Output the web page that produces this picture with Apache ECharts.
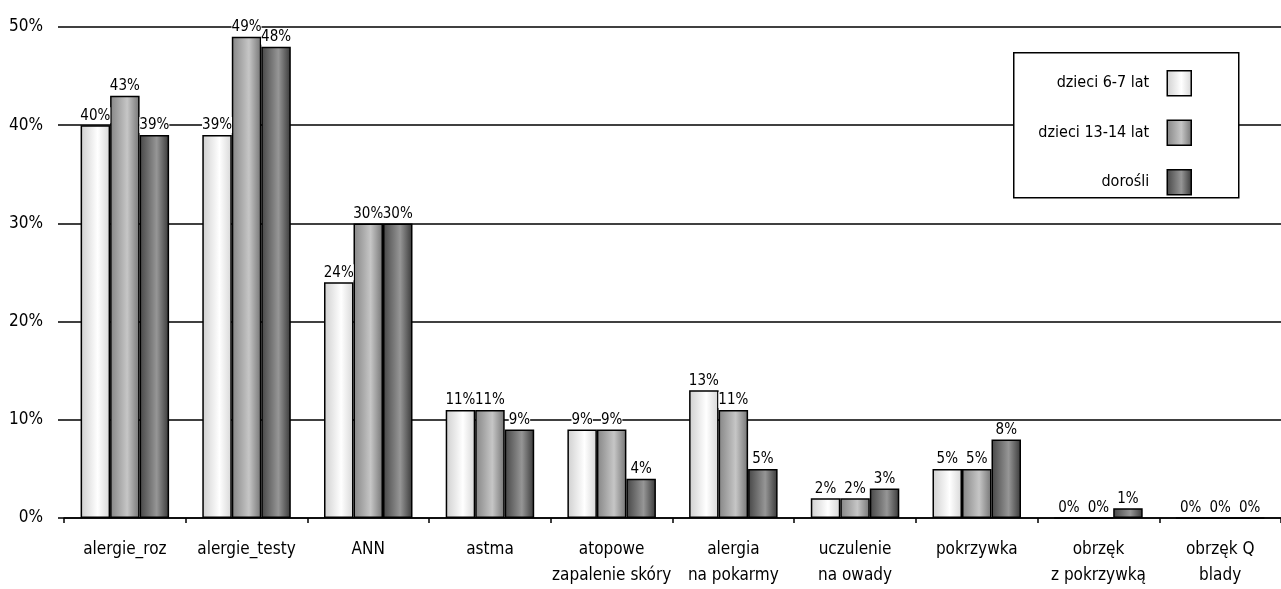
<!DOCTYPE html>
<html>
<head>
<meta charset="utf-8">
<script src="https://cdn.jsdelivr.net/npm/echarts@6/dist/echarts.min.js"></script>
<style>
  html, body { margin: 0; padding: 0; background: #fff; }
  #chart { width: 1281px; height: 589px; }
</style>
</head>
<body>
<div id="chart"></div>
<script>
// Categories (two-line labels split with \n)
const categories = [
  'alergie_roz',
  'alergie_testy',
  'ANN',
  'astma',
  'atopowe\nzapalenie skóry',
  'alergia\nna pokarmy',
  'uczulenie\nna owady',
  'pokrzywka',
  'obrzęk\nz pokrzywką',
  'obrzęk Q\nblady'
];

// Percent values per group
const dzieci67 = [40, 39, 24, 11, 9, 13, 2, 5, 0, 0];
const dzieci1314 = [43, 49, 30, 11, 9, 11, 2, 5, 0, 0];
const dorosli = [39, 48, 30, 9, 4, 5, 3, 8, 1, 0];

const seriesNames = ['dzieci 6-7 lat', 'dzieci 13-14 lat', 'dorośli'];
const yTicks = [0, 10, 20, 30, 40, 50];

const FONT = '"Liberation Sans Narrow", "DejaVu Sans Condensed", "Open Sans", sans-serif';

// Horizontal cylinder-like shading for each bar series
function shade(edgeL, peak, edgeR) {
  return new echarts.graphic.LinearGradient(0, 0, 1, 0, [
    { offset: 0, color: edgeL },
    { offset: 0.58, color: peak },
    { offset: 1, color: edgeR }
  ]);
}
const fills = [
  shade('#cfcfcf', '#ffffff', '#d6d6d6'),
  shade('#858585', '#c6c6c6', '#747474'),
  shade('#464646', '#969696', '#383838')
];

const values = [dzieci67, dzieci1314, dorosli];

const chart = echarts.init(document.getElementById('chart'), null, { renderer: 'canvas' });

chart.setOption({
  animation: false,
  backgroundColor: '#ffffff',
  textStyle: { fontFamily: FONT },
  grid: { left: 64, right: 0, top: 27, bottom: 68, containLabel: false },
  graphic: [{
    type: 'rect',
    left: 1013, top: 52, z: 50,
    shape: { width: 225, height: 145 },
    style: { fill: '#ffffff', stroke: '#000000', lineWidth: 1.5 }
  }],
  legend: {
    z: 60,
    orient: 'vertical',
    align: 'right',
    right: 89,
    top: 70,
    padding: 0,
    itemWidth: 24,
    itemHeight: 25,
    itemGap: 23,
    icon: 'rect',
    itemStyle: { borderColor: '#000000', borderWidth: 1.5 },
    textStyle: { fontFamily: FONT, fontSize: 16, color: '#000000', padding: [0, 13, 0, 0] },
    data: seriesNames
  },
  xAxis: {
    type: 'category',
    data: categories,
    axisLine: { lineStyle: { color: '#000000', width: 1.5 } },
    axisTick: { show: true, length: 5, lineStyle: { color: '#000000', width: 1.5 } },
    axisLabel: {
      fontFamily: FONT, fontSize: 17, color: '#000000',
      margin: 19, lineHeight: 26, interval: 0
    }
  },
  yAxis: {
    type: 'value',
    min: 0, max: 50, interval: 10,
    axisLine: { show: false },
    axisTick: { show: true, length: 6, lineStyle: { color: '#000000', width: 1.5 } },
    axisLabel: {
      fontFamily: FONT, fontSize: 17, color: '#000000', margin: 21,
      formatter: v => (yTicks.includes(v) ? v + '%' : '')
    },
    splitLine: { show: true, lineStyle: { color: '#000000', width: 1.5 } }
  },
  series: seriesNames.map((name, i) => ({
    name,
    type: 'bar',
    data: values[i],
    barWidth: 29.5,
    barGap: '0%',
    itemStyle: { color: fills[i], borderColor: '#000000', borderWidth: 1.5 },
    label: {
      show: true,
      position: 'top',
      distance: 2,
      formatter: '{c}%',
      fontFamily: FONT,
      fontSize: 15,
      color: '#000000',
      backgroundColor: '#ffffff',
      padding: [1, 0, 0, 0]
    }
  }))
});
</script>
</body>
</html>
